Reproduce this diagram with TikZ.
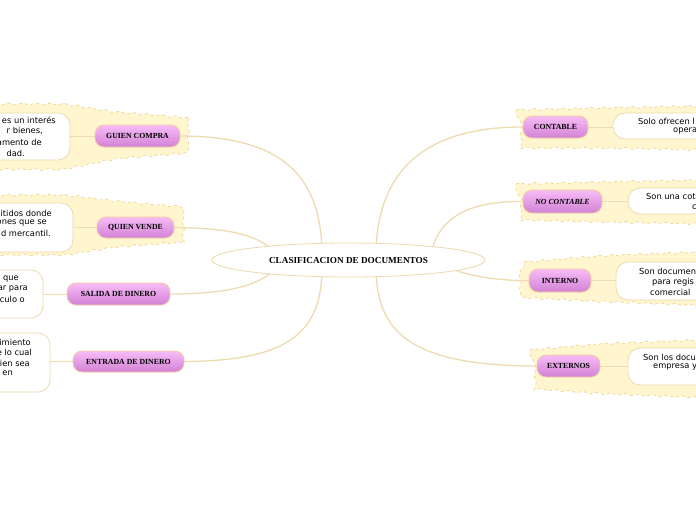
\documentclass[tikz,border=0pt]{standalone}
\usepackage{fontspec}
\setmainfont{DejaVu Sans}
\newfontfamily\pillfont{Liberation Serif}
\usetikzlibrary{shapes.geometric,decorations.pathmorphing}
\definecolor{linec}{RGB}{238,220,176}
\definecolor{cloudfill}{RGB}{255,246,208}
\definecolor{cloudline}{RGB}{236,212,146}
\definecolor{pilltop}{RGB}{247,188,247}
\definecolor{pillbot}{RGB}{210,130,212}
\definecolor{pillline}{RGB}{242,204,156}
\definecolor{boxline}{RGB}{236,218,172}
\tikzset{
  link/.style={draw=linec, line width=1.3pt},
  cloud/.style={fill=cloudfill, draw=cloudline, dashed, line width=0.7pt,
    decorate, decoration={snake, amplitude=1pt, segment length=14pt}},
  pill/.style={rounded corners=9pt, top color=pilltop, bottom color=pillbot,
    draw=pillline, line width=0.8pt, inner sep=0pt,
    font=\pillfont\bfseries\fontsize{7.8}{8}\selectfont},
  tbox/.style={draw=boxline, fill=white, rounded corners=12pt, line width=0.8pt, inner sep=0pt},
  txt/.style={font=\fontsize{8.3}{9}\selectfont, inner sep=0pt},
  mainnode/.style={ellipse, draw=boxline, fill=white, line width=0.8pt,
    minimum width=273pt, minimum height=34pt, inner sep=0pt,
    font=\pillfont\bfseries\fontsize{9.2}{10}\selectfont}
}
\begin{document}
\begin{tikzpicture}[x=1pt,y=-1pt]
\useasboundingbox (0,0) rectangle (696,520);
\clip (0,0) rectangle (696,520);
\fill[white] (0,0) rectangle (696,520);

% clouds
\path[cloud] (-10,104) -- (60,104) -- (110,112) -- (185,118) -- (185,152) -- (110,158) -- (60,168) -- (-10,168) -- cycle;
\path[cloud] (-10,195) -- (60,195) -- (110,201) -- (178,207) -- (178,245) -- (110,250) -- (60,258) -- (-10,258) -- cycle;
\path[cloud] (516,110) -- (600,108) -- (706,106) -- (706,148) -- (600,146) -- (516,146) -- cycle;
\path[cloud] (516,184) -- (600,182) -- (706,180) -- (706,222) -- (600,220) -- (516,218) -- cycle;
\path[cloud] (524,262) -- (600,256) -- (706,252) -- (706,312) -- (600,308) -- (524,304) -- cycle;
\path[cloud] (530,350) -- (600,344) -- (706,340) -- (706,396) -- (600,392) -- (530,387) -- cycle;

% pills
\node[pill, minimum width=85pt, minimum height=22pt] (p1) at (137.5,136) {GUIEN COMPRA};
\node[pill, minimum width=77pt, minimum height=21pt] (p2) at (135.5,227.5) {QUIEN VENDE};
\node[pill, minimum width=103pt, minimum height=22pt] (p3) at (118.5,294) {SALIDA DE DINERO};
\node[pill, minimum width=111pt, minimum height=21pt] (p4) at (128.5,361.5) {ENTRADA DE DINERO};
\node[pill, minimum width=65pt, minimum height=22pt] (q1) at (555.5,127) {CONTABLE};
\node[pill, minimum width=79pt, minimum height=23pt] (q2) at (562.5,201.5) {\itshape NO CONTABLE};
\node[pill, minimum width=62pt, minimum height=23pt] (q3) at (560,280.5) {INTERNO};
\node[pill, minimum width=63pt, minimum height=22pt] (q4) at (568.5,366) {EXTERNOS};

% text boxes
\node[tbox, minimum width=140pt, minimum height=47pt] (b1) at (0,136.5) {};
\node[tbox, minimum width=140pt, minimum height=49pt] (b2) at (3,227.5) {};
\node[tbox, minimum width=120pt, minimum height=48pt] (b3) at (-17,294) {};
\node[tbox, minimum width=120pt, minimum height=59pt] (b4) at (-10,362.5) {};
\node[tbox, minimum width=140pt, minimum height=26pt] (c1) at (683,126) {};
\node[tbox, minimum width=140pt, minimum height=26pt] (c2) at (698,201) {};
\node[tbox, minimum width=140pt, minimum height=38pt] (c3) at (686,281) {};
\node[tbox, minimum width=140pt, minimum height=37pt] (c4) at (698,366.5) {};

% short links pill - box
\draw[link, line width=1pt] (p1.west) -- (b1.east |- p1.west);
\draw[link, line width=1pt] (p2.west) -- (b2.east |- p2.west);
\draw[link, line width=1pt] (p3.west) -- (b3.east |- p3.west);
\draw[link, line width=1pt] (p4.west) -- (b4.east |- p4.west);
\draw[link, line width=1pt] (q1.east) -- (c1.west |- q1.east);
\draw[link, line width=1pt] (q2.east) -- (c2.west |- q2.east);
\draw[link, line width=1pt] (q3.east) -- (c3.west |- q3.east);
\draw[link, line width=1pt] (q4.east) -- (c4.west |- q4.east);

% box texts (left, cut by the picture edge)
\node[txt, anchor=east] (t11) at (56,120) {es un interés};
\node[txt, anchor=east] (t12) at (43,131) {r bienes,};
\node[txt, anchor=east] (t13) at (42,142) {amento de};
\node[txt, anchor=east] (t14) at (25,153) {dad.};
\node[txt, anchor=east] (t21) at (52,213) {itidos donde};
\node[txt, anchor=east] (t22) at (47,223) {ones que se};
\node[txt, anchor=east] (t23) at (51,233) {d mercantil.};
\node[txt, anchor=east] (t31) at (19,279) {que};
\node[txt, anchor=east] (t32) at (28,289) {ar para};
\node[txt, anchor=east] (t33) at (25,299) {ículo o};
\node[txt, anchor=east] (t41) at (31,342) {imiento};
\node[txt, anchor=east] (t42) at (32,352) {e lo cual};
\node[txt, anchor=east] (t43) at (30,363) {ien sea};
\node[txt, anchor=east] (t44) at (13,373) {en};
% box texts (right, cut by the picture edge)
\node[txt, anchor=west] (u11) at (638,121) {Solo ofrecen l};
\node[txt, anchor=west] (u12) at (673,131) {opera};
\node[txt, anchor=west] (u21) at (646,196) {Son una cot};
\node[txt, anchor=west] (u22) at (692,207) {c};
\node[txt, anchor=west] (u31) at (639,271) {Son documen};
\node[txt, anchor=west] (u32) at (652,282) {para regis};
\node[txt, anchor=west] (u33) at (650,292) {comercial};
\node[txt, anchor=west] (u41) at (643,357) {Son los docu};
\node[txt, anchor=west] (u42) at (653,367) {empresa y};

% main connectors
\coordinate (m1) at (322,250);
\coordinate (m2) at (272,250);
\coordinate (m3) at (272,272);
\coordinate (m4) at (322,272);
\coordinate (n1) at (376,250);
\coordinate (n2) at (432,250);
\coordinate (n3) at (455,270);
\coordinate (n4) at (376,272);
\draw[link] (p1.east) .. controls (292,136) and (320,185) .. (m1);
\draw[link] (p2.east) .. controls (232,228) and (258,236) .. (m2);
\draw[link] (p3.east) .. controls (232,294) and (258,284) .. (m3);
\draw[link] (p4.east) .. controls (292,361) and (320,330) .. (m4);
\draw[link] (q1.west) .. controls (410,127) and (378,185) .. (n1);
\draw[link] (q2.west) .. controls (468,201) and (440,218) .. (n2);
\draw[link] (q3.west) .. controls (500,281) and (470,276) .. (n3);
\draw[link] (q4.west) .. controls (408,366) and (378,330) .. (n4);

\node[mainnode] (main) at (348.5,260) {CLASIFICACION DE DOCUMENTOS};
\end{tikzpicture}
\end{document}
